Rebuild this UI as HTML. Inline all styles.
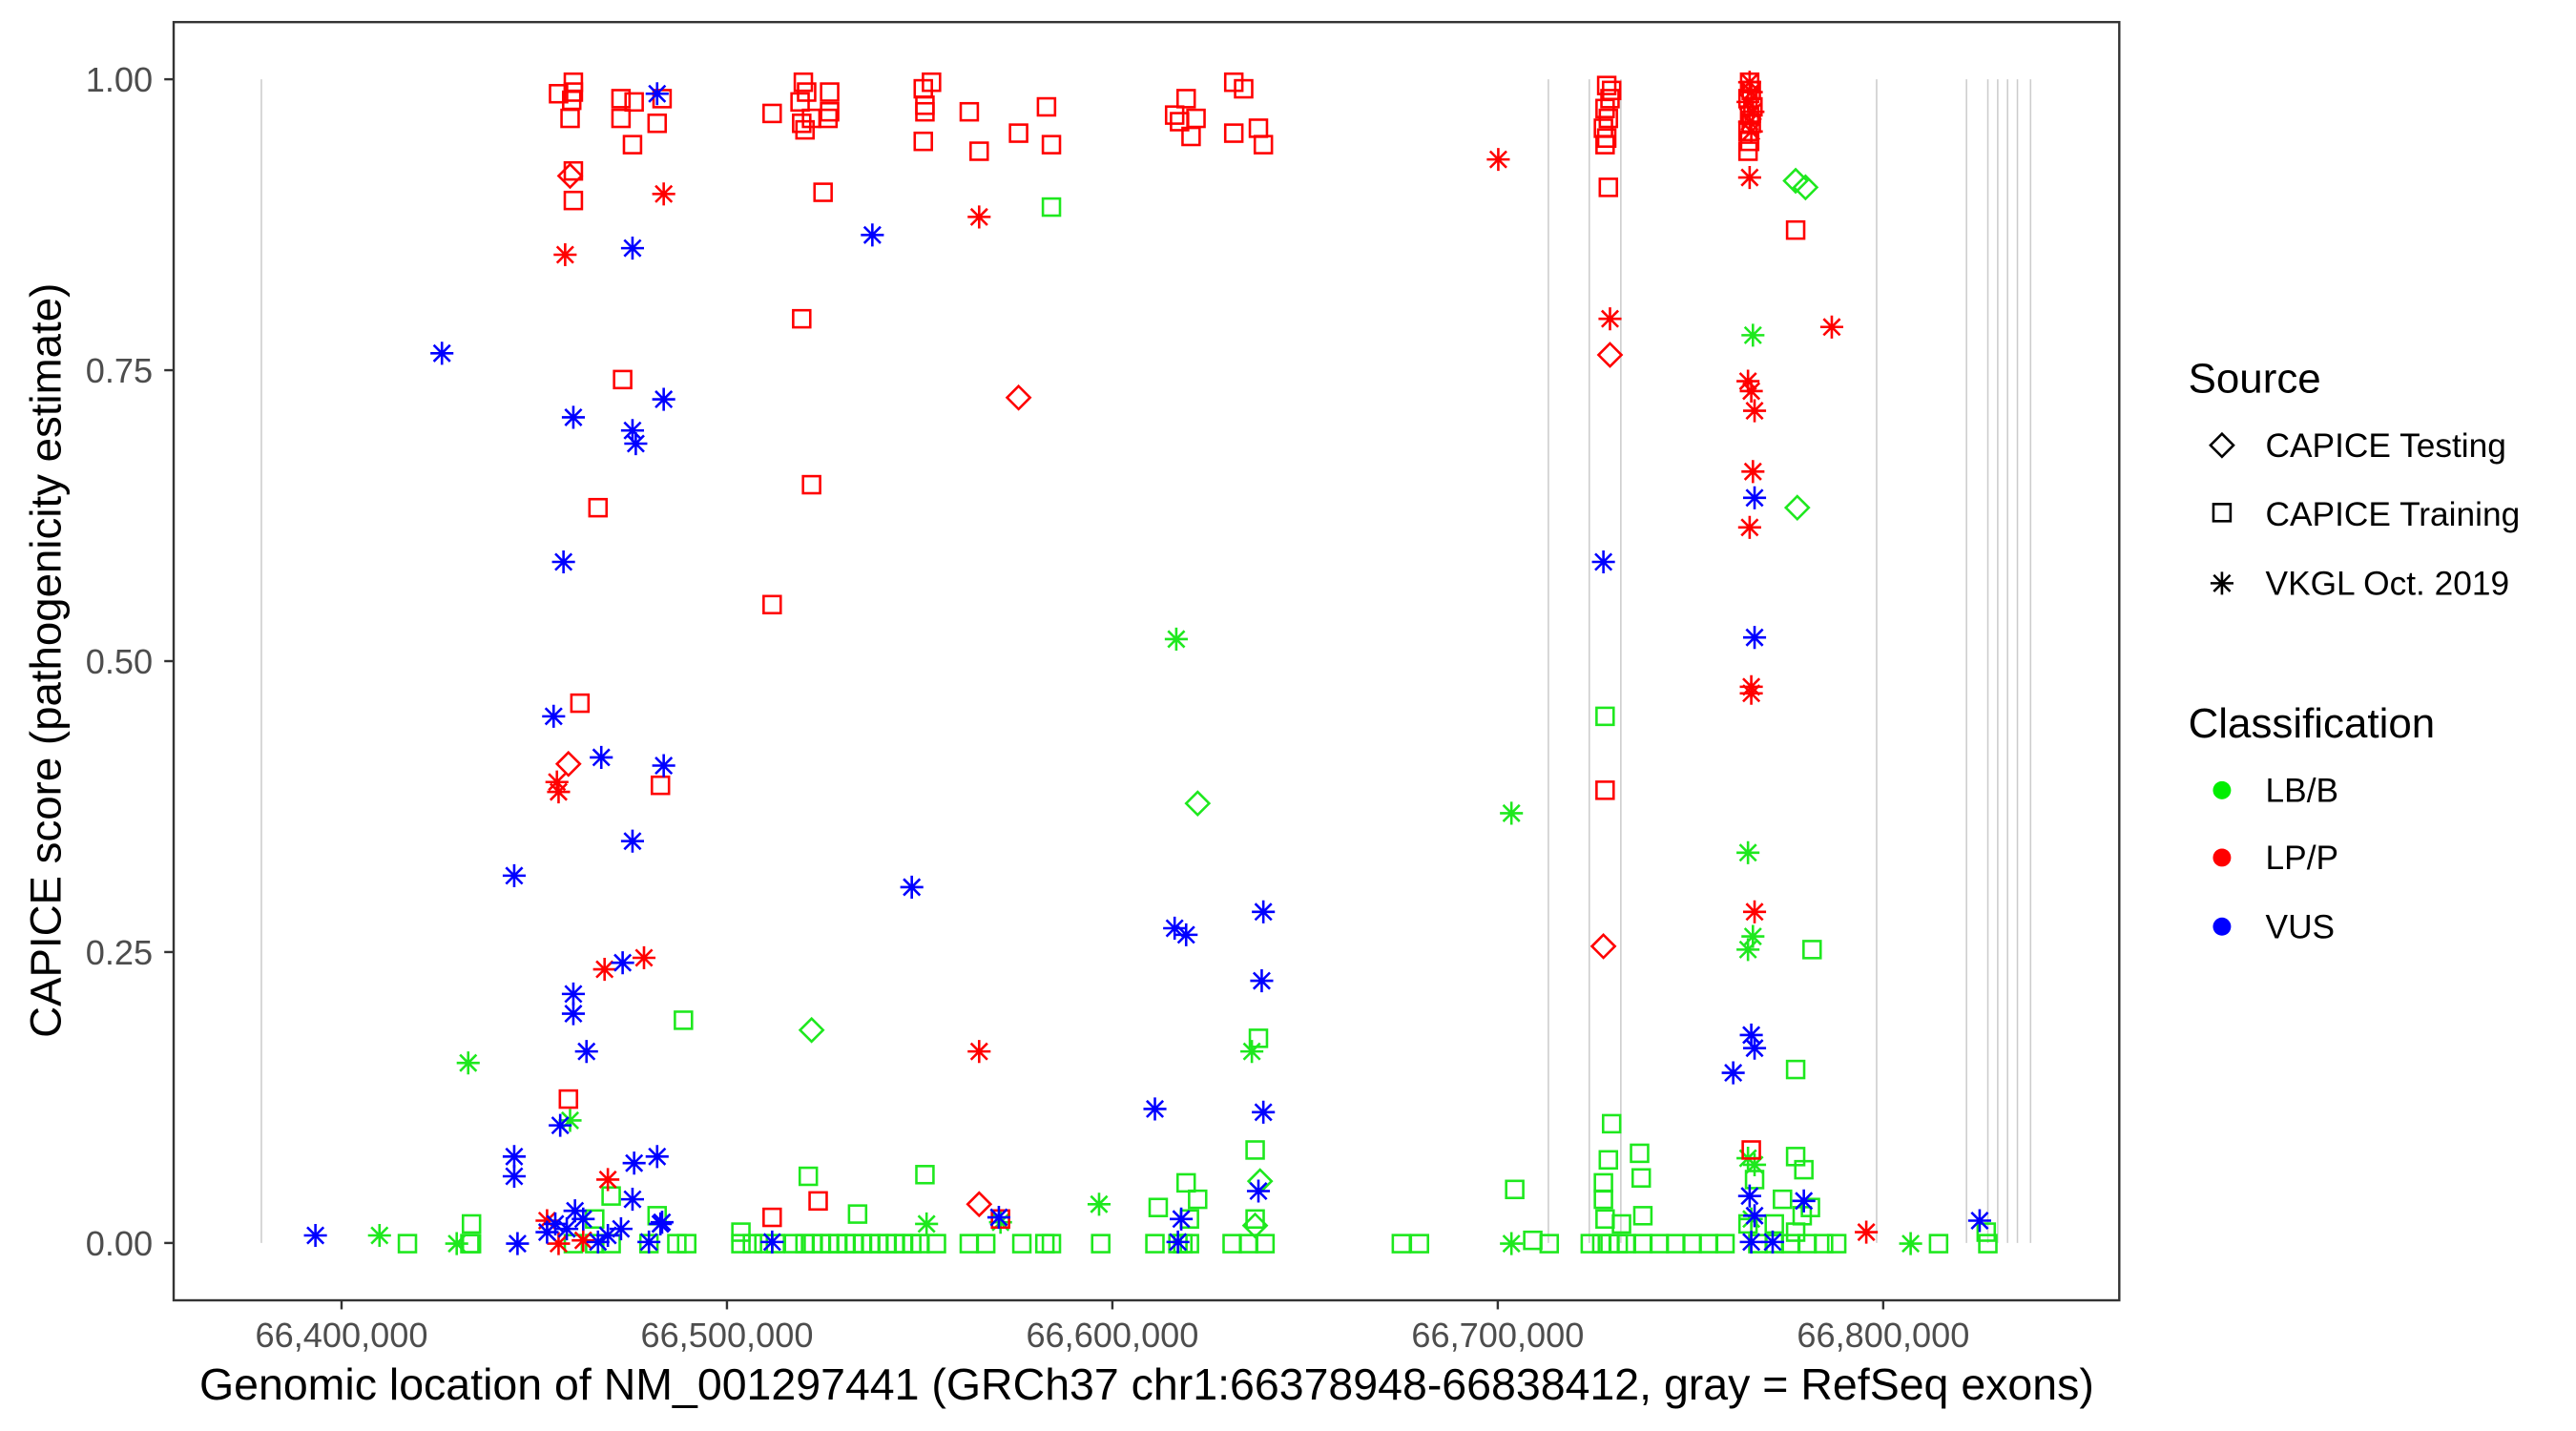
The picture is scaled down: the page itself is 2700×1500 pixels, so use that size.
<!DOCTYPE html>
<html><head><meta charset="utf-8"><style>html,body{margin:0;padding:0;background:#fff}svg{display:block}</style></head>
<body>
<svg id="s" width="2700" height="1500" viewBox="0 0 1568 871" xmlns="http://www.w3.org/2000/svg" font-family="Liberation Sans, Arial, sans-serif">
<rect width="1568" height="871" fill="#fff"/>
<g id="ex" stroke="#cccccc" stroke-width="0.9"></g>
<g id="pts" fill="none" stroke-width="1.5"></g>
<rect x="105.7" y="13.4" width="1184.3" height="778.1" fill="none" stroke="#333" stroke-width="1.4"/>
<g stroke="#333" stroke-width="1.4">
<line x1="100" x2="105.7" y1="48.2" y2="48.2"/><line x1="100" x2="105.7" y1="225.3" y2="225.3"/><line x1="100" x2="105.7" y1="402.4" y2="402.4"/><line x1="100" x2="105.7" y1="579.5" y2="579.5"/><line x1="100" x2="105.7" y1="756.6" y2="756.6"/>
<line y1="791.5" y2="797" x1="207.9" x2="207.9"/><line y1="791.5" y2="797" x1="442.5" x2="442.5"/><line y1="791.5" y2="797" x1="677.1" x2="677.1"/><line y1="791.5" y2="797" x1="911.7" x2="911.7"/><line y1="791.5" y2="797" x1="1146.3" x2="1146.3"/>
</g>
<g fill="#4d4d4d" font-size="21" text-anchor="end">
<text x="93" y="55.7">1.00</text><text x="93" y="232.8">0.75</text><text x="93" y="409.9">0.50</text><text x="93" y="587">0.25</text><text x="93" y="764.1">0.00</text>
</g>
<g fill="#4d4d4d" font-size="21" text-anchor="middle">
<text x="207.9" y="820">66,400,000</text><text x="442.5" y="820">66,500,000</text><text x="677.1" y="820">66,600,000</text><text x="911.7" y="820">66,700,000</text><text x="1146.3" y="820">66,800,000</text>
</g>
<text x="698" y="852" font-size="27" text-anchor="middle" fill="#000">Genomic location of NM_001297441 (GRCh37 chr1:66378948-66838412, gray = RefSeq exons)</text>
<text transform="translate(37,402) rotate(-90)" font-size="26.5" text-anchor="middle" fill="#000">CAPICE score (pathogenicity estimate)</text>
<g font-size="25.5" fill="#000"><text x="1332" y="239">Source</text><text x="1332" y="449">Classification</text></g>
<g font-size="20.5" fill="#000">
<text x="1379" y="278">CAPICE Testing</text><text x="1379" y="320">CAPICE Training</text><text x="1379" y="362">VKGL Oct. 2019</text>
<text x="1379" y="488">LB/B</text><text x="1379" y="529">LP/P</text><text x="1379" y="571">VUS</text>
</g>
<g id="leg" fill="none" stroke="#000" stroke-width="1.5"></g>
<circle cx="1352.5" cy="481" r="5.5" fill="#00ee00"/>
<circle cx="1352.5" cy="522" r="5.5" fill="#ff0000"/>
<circle cx="1352.5" cy="564" r="5.5" fill="#0000ff"/>
</svg>
<script>
var NS="http://www.w3.org/2000/svg";
function el(p,t,a){var e=document.createElementNS(NS,t);for(var k in a)e.setAttribute(k,a[k]);p.appendChild(e);return e;}
var ex=document.getElementById("ex");
[159.1,942.5,967.4,986.6,1142.3,1197,1210,1216,1222,1228,1236].forEach(function(x){el(ex,"line",{x1:x,x2:x,y1:48.2,y2:756.6});});
var G="#1ee81e",R="#ff0000",B="#0000ff";
function mk(p,x,y,s,c){
 if(s=="s"){el(p,"rect",{x:x-5.2,y:y-5.2,width:10.4,height:10.4,stroke:c});}
 else if(s=="d"){el(p,"path",{d:"M"+x+" "+(y-7)+"L"+(x+7)+" "+y+"L"+x+" "+(y+7)+"L"+(x-7)+" "+y+"Z",stroke:c});}
 else{var r=7,q=5;el(p,"path",{d:"M"+(x-r)+" "+y+"H"+(x+r)+"M"+x+" "+(y-r)+"V"+(y+r)+"M"+(x-q)+" "+(y-q)+"L"+(x+q)+" "+(y+q)+"M"+(x-q)+" "+(y+q)+"L"+(x+q)+" "+(y-q),stroke:c});}
}
var P=document.getElementById("pts");
function add(list,s,c){list.forEach(function(p){mk(P,p[0],p[1],s,c);});}
var gb=[248,286,287,349,362,372,395,412,418,451,458,465,472,483,490,495,500,505,510,515,520,525,530,535,540,545,550,555,560,570,590,600,622,636,640,670,703,717,720,724,750,760,770,853,864,943,968,975,980,985,990,1000,1010,1020,1030,1040,1050,1070,1080,1090,1100,1110,1118,1180,1210];
add(gb.map(function(x){return [x,757];}),"s",G);
add([[287,745],[362,742],[372,728],[400,740],[416,621],[492,716],[522,739],[563,715],[451,750],[705,735],[722,720],[729,730],[724,742],[766,632],[764,742],[977,436],[981,684],[979,706],[976,720],[976,730],[998,702],[999,717],[977,742],[1000,740],[933,755],[922,724],[987,745],[1103,578],[1093,651],[1093,704],[1098,712],[1097,740],[1102,735],[1085,730],[1080,745],[1093,750],[1064,745],[1068,718],[1209,750],[640,126],[764,700]],"s",G);
add([[716,389],[920,495],[1067,204],[1064,519],[1064,578],[1067,570],[285,647],[347,682],[762,640],[669,733],[564,745],[609,744],[1064,705],[1068,709],[231,752],[920,757],[1163,757],[278,757],[1066,742]],"a",G);
add([[1093,110],[1099,114],[1094,309],[729,489],[494,627],[767,719],[764,746]],"d",G);
add([[340,57],[349,50],[349,56],[348,61],[347,72],[378,60],[386,62],[378,72],[385,88],[400,75],[403,60],[349,104],[349,122],[379,231],[364,309],[353,428],[346,669],[402,478],
[470,69],[487,62],[489,50],[491,56],[488,75],[490,79],[494,72],[505,56],[505,68],[504,72],[501,117],[488,194],[494,295],[470,368],[470,741],[498,731],
[562,54],[563,64],[563,68],[562,86],[567,50],[590,68],[596,92],[620,81],[637,65],[640,88],
[715,70],[718,74],[722,60],[725,83],[728,72],[751,50],[757,54],[751,81],[766,78],[769,88],[609,742],
[978,52],[980,60],[977,66],[979,72],[976,78],[978,84],[977,88],[981,55],[979,114],[977,481],
[1065,50],[1066,55],[1064,60],[1067,65],[1065,70],[1066,75],[1064,80],[1065,86],[1064,92],[1093,140],[1066,700]],"s",R);
add([[1065,50],[1066,56],[1064,62],[1067,68],[1065,74],[1066,80]],"a",R);
add([[404,118],[344,155],[596,132],[912,97],[980,194],[1115,199],[1064,232],[1066,238],[1068,250],[1067,287],[1065,321],[1066,418],[1066,422],[1068,555],[1065,108],[339,476],[340,482],[368,590],[392,583],[596,640],[370,718],[1136,750],[333,743],[340,757],[355,755]],"a",R);
add([[347,107],[346,465],[620,242],[980,216],[976,576],[596,733]],"d",R);
add([[269,215],[349,254],[343,342],[385,151],[385,262],[387,270],[404,243],[400,57],[531,143],[385,512],[337,436],[366,461],[404,466],[313,533],[555,540],[379,586],[349,605],[349,617],[357,640],[313,704],[313,716],[386,708],[400,704],[341,685],[350,737],[385,730],[403,744],[192,752],[315,757],[703,675],[715,565],[722,569],[769,555],[768,597],[769,677],[766,725],[976,342],[1068,303],[1068,388],[1066,630],[1068,638],[1055,653],[1065,728],[1068,740],[1098,731],[1205,743],[1066,756],[1079,756],[719,742],[717,756],[608,741],[470,756],[333,750],[338,745],[345,748],[355,742],[364,756],[370,752],[378,748],[395,756],[402,745]],"a",B);
var L=document.getElementById("leg");
mk(L,1352.5,271,"d","#000");mk(L,1352.5,312,"s","#000");mk(L,1352.5,355,"a","#000");
</script>
</body></html>
